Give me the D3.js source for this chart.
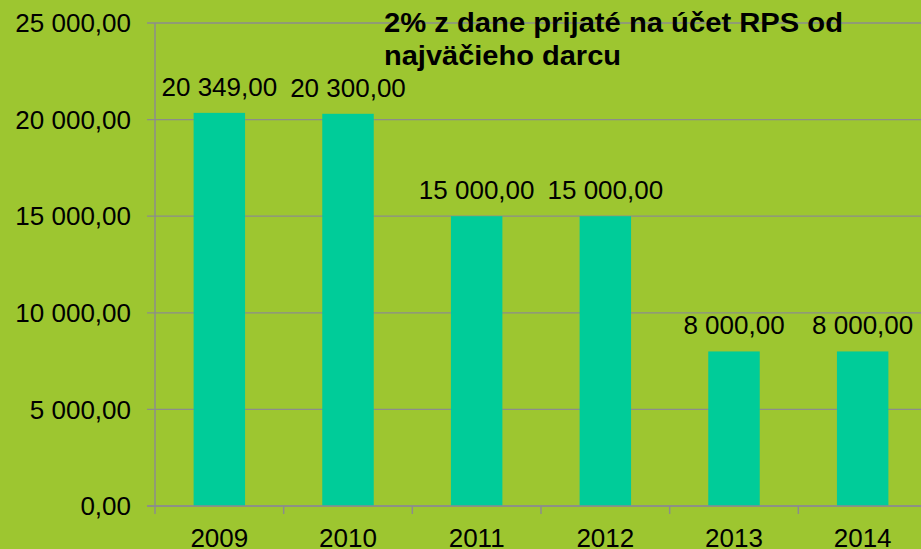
<html>
<head>
<meta charset="UTF-8">
<title>2% z dane</title>
<script src="https://cdn.jsdelivr.net/npm/d3@7"></script>
<style>
  body { margin: 0; background: #9dc630; }
  svg { display: block; font-family: "Liberation Sans", Arial, sans-serif; }
</style>
</head>
<body>
<div id="chart"></div>
<script>
// data
var years = ["2009", "2010", "2011", "2012", "2013", "2014"];
var values = [20349, 20300, 15000, 15000, 8000, 8000];
var yTicks = [0, 5000, 10000, 15000, 20000, 25000];
var titleLines = ["2% z dane prijaté na účet RPS od", "najväčieho darcu"];
var titleWidths = [459, 237];

var width = 921, height = 549;
var plotLeft = 155, plotRight = 927, plotTop = 23, plotBottom = 506;

var svg = d3.select("#chart").append("svg")
    .attr("width", width)
    .attr("height", height);

svg.append("rect")
    .attr("width", width)
    .attr("height", height)
    .attr("fill", "#9dc630");

var fmt = d3.formatLocale({decimal: ",", thousands: " ", grouping: [3], currency: ["", ""]}).format(",.2f");

var x = d3.scaleBand().domain(years).range([plotLeft, plotRight]).padding(0);
var y = d3.scaleLinear().domain([0, 25000]).range([plotBottom, plotTop]);

// gridlines + left ticks
svg.append("g")
    .selectAll("line")
    .data(yTicks)
    .enter()
    .append("line")
    .attr("x1", plotLeft - 8)
    .attr("x2", width)
    .attr("y1", function(d) { return y(d); })
    .attr("y2", function(d) { return y(d); })
    .attr("stroke", "#8c8c8c")
    .attr("stroke-width", 1.3);

// y labels
svg.append("g")
    .selectAll("text")
    .data(yTicks)
    .enter()
    .append("text")
    .attr("x", 131)
    .attr("y", function(d) { return y(d); })
    .attr("dy", "0.35em")
    .attr("text-anchor", "end")
    .attr("font-size", 26)
    .attr("fill", "#000")
    .text(function(d) { return fmt(d); });

// bars
var bw = x.bandwidth() * 0.4;
svg.append("g")
    .selectAll("rect")
    .data(values)
    .enter()
    .append("rect")
    .attr("x", function(d, i) { return x(years[i]) + (x.bandwidth() - bw) / 2; })
    .attr("y", function(d) { return y(d); })
    .attr("width", bw)
    .attr("height", function(d) { return y(0) - y(d); })
    .attr("fill", "#00cc99");

// value labels
svg.append("g")
    .selectAll("text")
    .data(values)
    .enter()
    .append("text")
    .attr("x", function(d, i) { return x(years[i]) + x.bandwidth() / 2; })
    .attr("y", function(d) { return y(d) - 17; })
    .attr("text-anchor", "middle")
    .attr("font-size", 26)
    .attr("fill", "#000")
    .text(function(d) { return fmt(d); });

// axis lines
svg.append("line")
    .attr("x1", plotLeft).attr("x2", plotLeft)
    .attr("y1", plotTop).attr("y2", plotBottom + 8)
    .attr("stroke", "#8c8c8c").attr("stroke-width", 1.5);
svg.append("line")
    .attr("x1", plotLeft - 8).attr("x2", width)
    .attr("y1", plotBottom).attr("y2", plotBottom)
    .attr("stroke", "#8c8c8c").attr("stroke-width", 1.5);

// category boundary ticks
svg.append("g")
    .selectAll("line")
    .data(years.slice(1))
    .enter()
    .append("line")
    .attr("x1", function(d) { return x(d); })
    .attr("x2", function(d) { return x(d); })
    .attr("y1", plotBottom)
    .attr("y2", plotBottom + 8)
    .attr("stroke", "#8c8c8c")
    .attr("stroke-width", 1.5);

// x labels
svg.append("g")
    .selectAll("text")
    .data(years)
    .enter()
    .append("text")
    .attr("x", function(d) { return x(d) + x.bandwidth() / 2; })
    .attr("y", 547)
    .attr("text-anchor", "middle")
    .attr("font-size", 26)
    .attr("fill", "#000")
    .text(function(d) { return d; });

// title
svg.append("g")
    .selectAll("text")
    .data(titleLines)
    .enter()
    .append("text")
    .attr("x", 384)
    .attr("y", function(d, i) { return 31.5 + i * 33.5; })
    .attr("font-size", 27)
    .attr("font-weight", "bold")
    .attr("fill", "#000")
    .attr("textLength", function(d, i) { return titleWidths[i]; })
    .attr("lengthAdjust", "spacingAndGlyphs")
    .text(function(d) { return d; });
</script>
</body>
</html>
